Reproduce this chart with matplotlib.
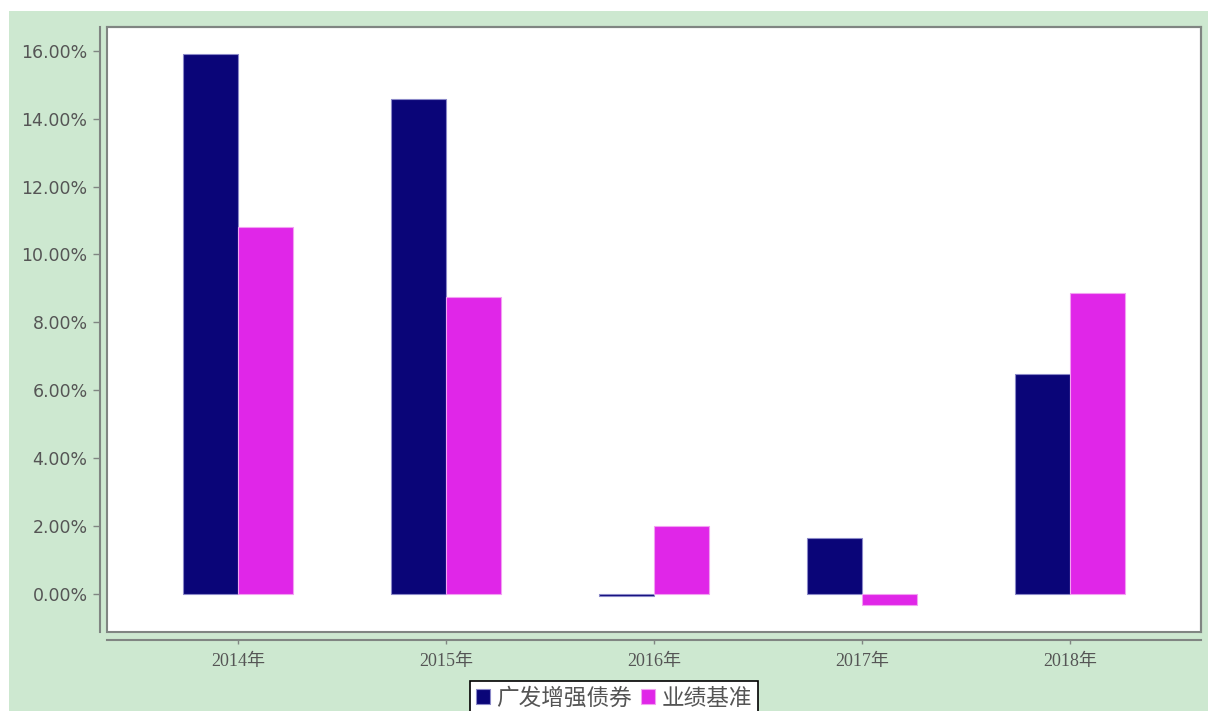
import numpy as np
import matplotlib.pyplot as plt
from matplotlib.patches import Rectangle

plt.rcParams['font.family'] = ['DejaVu Sans', 'Noto Sans CJK SC']

years = ['2014年', '2015年', '2016年', '2017年', '2018年']
fund = [15.91, 14.58, -0.05, 1.65, 6.48]
bench = [10.81, 8.75, 2.00, -0.32, 8.87]
labels = ['广发增强债券', '业绩基准']
yticks = [0, 2, 4, 6, 8, 10, 12, 14, 16]

navy = '#0a0578'
pink = '#e026e8'
gray = '#808582'
txt = '#555555'

fig = plt.figure(figsize=[12.08, 7.11], dpi=100, facecolor='white')
# green panel behind the chart
fig.patches.append(Rectangle((9/1208, 0), 1 - 9/1208, 1 - 11/711, transform=fig.transFigure,
                             facecolor='#cde8d0', edgecolor='none', zorder=-10))

ax = fig.add_axes([107/1208, 1 - 632/711, 1094/1208, 605/711])
ax.set_facecolor('white')

x = np.arange(len(years))
w = 0.264
ax.bar(x - w/2, fund, w, color=navy, edgecolor='#8a88c8', linewidth=0.8, label=labels[0], zorder=2)
ax.bar(x + w/2, bench, w, color=pink, edgecolor='#f2a0f2', linewidth=0.8, label=labels[1], zorder=2)

ax.set_xlim(-0.63, 4.63)
ax.set_ylim(-1.12, 16.70)

# frame around the plotting area
for s in ['top', 'right']:
    ax.spines[s].set_color(gray)
    ax.spines[s].set_linewidth(1.5)
ax.add_patch(Rectangle((0, 0), 1, 1, transform=ax.transAxes, fill=False,
                       edgecolor=gray, linewidth=1.5, zorder=3, clip_on=False))
# offset axis lines
ax.spines['left'].set_position(('outward', 5))
ax.spines['bottom'].set_position(('outward', 6))
ax.spines['left'].set_color(gray)
ax.spines['bottom'].set_color(gray)
ax.spines['left'].set_linewidth(1.5)
ax.spines['bottom'].set_linewidth(1.5)
ax.tick_params(axis='y', length=5, width=1, color=gray, pad=4, labelsize=12.5, labelcolor=txt)
ax.tick_params(axis='x', length=3, width=1, color=gray, pad=6, labelsize=13, labelcolor=txt)

ax.set_xticks(x)
ax.set_xticklabels(years)
for t in ax.get_xticklabels():
    t.set_fontfamily(['Liberation Serif', 'Noto Sans CJK SC'])
ax.set_yticks(yticks)
ax.set_yticklabels([f'{v:.2f}%' for v in yticks])

leg = fig.legend(loc='upper center', bbox_to_anchor=(614/1208, 1 - 681/711), ncol=2,
                 prop={'family': ['Noto Sans CJK SC', 'DejaVu Sans'], 'size': 16.3},
                 frameon=True, fancybox=False, edgecolor='black', facecolor='white', framealpha=1,
                 handlelength=0.6, handleheight=0.6, handletextpad=0.3, columnspacing=0.4,
                 borderpad=0.25, borderaxespad=0)
leg.get_frame().set_linewidth(1.2)
for t in leg.get_texts():
    t.set_color(txt)

fig.savefig('out.png', dpi=100, facecolor=fig.get_facecolor())
